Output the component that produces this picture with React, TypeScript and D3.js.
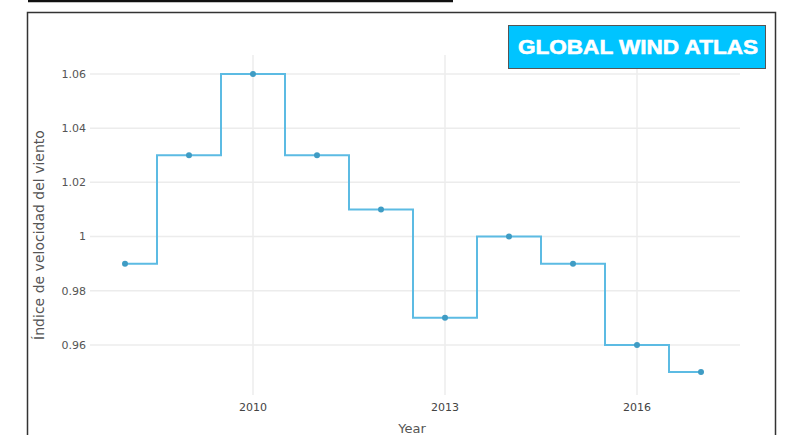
import React from 'react'
import * as d3 from 'd3'

const years: number[] = [2008, 2009, 2010, 2011, 2012, 2013, 2014, 2015, 2016, 2017]
const windIndex: number[] = [0.99, 1.03, 1.06, 1.03, 1.01, 0.97, 1.0, 0.99, 0.96, 0.95]
const yTicks: number[] = [0.96, 0.98, 1, 1.02, 1.04, 1.06]
const yTickLabels: string[] = ['0.96', '0.98', '1', '1.02', '1.04', '1.06']
const xTicks: number[] = [2010, 2013, 2016]

const W = 792
const H = 435

const xScale = d3.scaleLinear().domain([2008, 2017]).range([125, 701])
const yScale = d3.scaleLinear().domain([0.95, 1.06]).range([372, 74])

const App = () => {
  const pts = years.map((y, i) => [y, windIndex[i]] as [number, number])
  const line = d3.line<[number, number]>()
    .x(d => xScale(d[0]))
    .y(d => yScale(d[1]))
    .curve(d3.curveStep)

  return (
    <svg width={W} height={H} style={{ position: 'absolute', left: 0, top: 0 }}
      fontFamily='"DejaVu Sans", sans-serif'>
      <rect width={W} height={H} fill='#fff' />
      {/* top rule and outer frame */}
      <line x1={28} x2={453} y1={1} y2={1} stroke='#111' strokeWidth={2.5} />
      <path d={`M27.5,${H} V12.5 H775.5 V${H}`} fill='none' stroke='#333' strokeWidth={1.5} />

      {/* grid */}
      {yTicks.map(t => (
        <line key={`gy${t}`} x1={90} x2={740} y1={yScale(t)} y2={yScale(t)}
          stroke='#ececec' strokeWidth={1.5} />
      ))}
      {xTicks.map(t => (
        <line key={`gx${t}`} x1={xScale(t)} x2={xScale(t)} y1={55} y2={395}
          stroke='#ececec' strokeWidth={1.5} />
      ))}

      {/* tick labels */}
      {yTicks.map((t, i) => (
        <text key={`ty${t}`} x={86} y={yScale(t)} dy='0.35em' textAnchor='end'
          fontSize={11} fill='#555'>{yTickLabels[i]}</text>
      ))}
      {xTicks.map(t => (
        <text key={`tx${t}`} x={xScale(t)} y={411} textAnchor='middle'
          fontSize={11} fill='#444'>{t}</text>
      ))}

      {/* axis titles */}
      <text transform='translate(44,235) rotate(-90)' textAnchor='middle' fontSize={14}
        fill='#555'>Índice de velocidad del viento</text>
      <text x={412} y={433} textAnchor='middle' fontSize={13} fill='#555'>Year</text>

      {/* step line */}
      <path d={line(pts) || ''} fill='none' stroke='#5cbbe3' strokeWidth={2} />
      {pts.map(d => (
        <circle key={`p${d[0]}`} cx={xScale(d[0])} cy={yScale(d[1])} r={3} fill='#3f9cc4' />
      ))}

      {/* badge */}
      <rect x={508.5} y={25.5} width={257} height={43} fill='#00c4ff' stroke='#555' strokeWidth={1} />
      <text x={638} y={47} dy='0.36em' textAnchor='middle' fontSize={20} fontWeight='900'
        textLength={240} lengthAdjust='spacingAndGlyphs' stroke='#fff' strokeWidth={0.6}
        fontFamily='"Liberation Sans", Arial, sans-serif' fill='#fff'>GLOBAL WIND ATLAS</text>
    </svg>
  )
}

export default App
